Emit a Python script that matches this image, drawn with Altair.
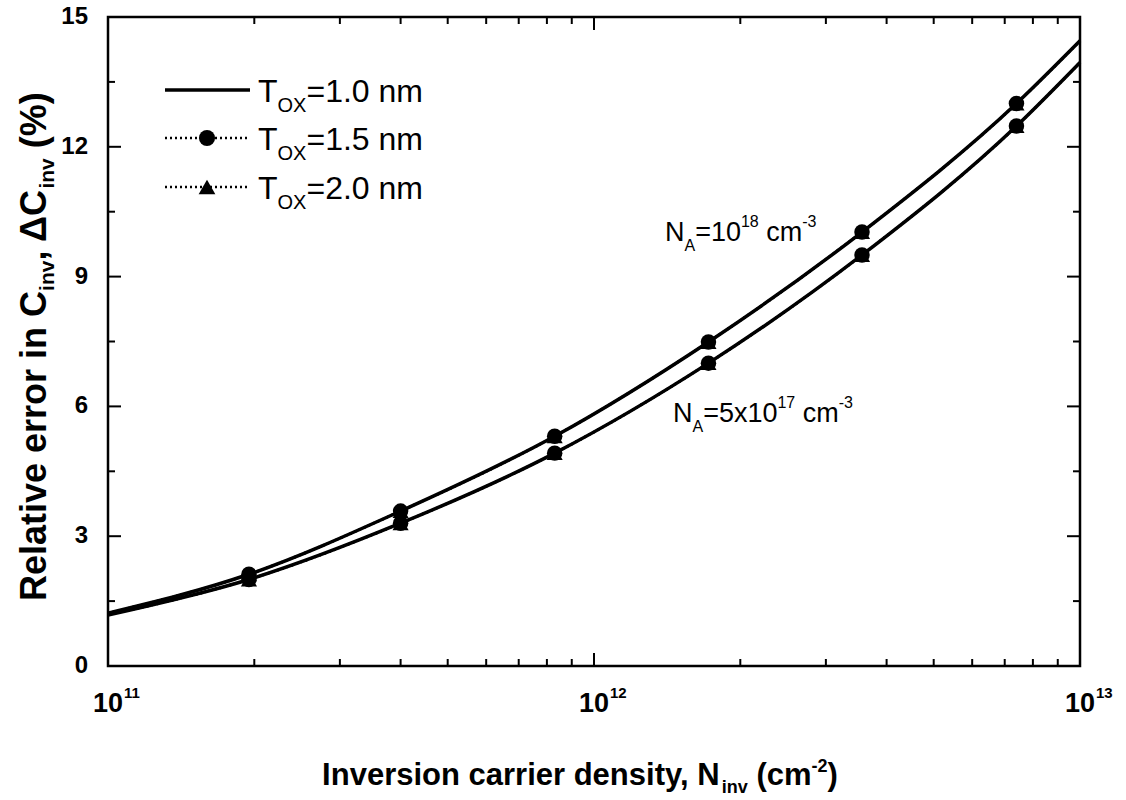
import altair as alt
import pandas as pd

# ---------------- data ----------------
n_inv = [1.0e11, 1.95e11, 4.0e11, 8.3e11, 1.72e12, 3.56e12, 7.4e12, 1.0e13]
err_na_1e18 = [1.22, 2.12, 3.58, 5.31, 7.49, 10.03, 13.00, 14.45]
err_na_5e17 = [1.18, 2.00, 3.30, 4.92, 7.00, 9.50, 12.48, 13.95]
has_marker = [False, True, True, True, True, True, True, False]
tox_values = ["1.0", "1.5", "2.0"]
na_values = ["1e18", "5e17"]

x_major = [1e11, 1e12, 1e13]
x_exponents = ["11", "12", "13"]
x_minor = [2e11, 3e11, 4e11, 5e11, 6e11, 7e11, 8e11, 9e11,
           2e12, 3e12, 4e12, 5e12, 6e12, 7e12, 8e12, 9e12]
y_major = [0, 3, 6, 9, 12, 15]
y_labels = ["0", "3", "6", "9", "12", "15"]
y_minor = [1.5, 4.5, 7.5, 10.5, 13.5]

rows = []
for tox in tox_values:
    for na, errs in zip(na_values, [err_na_1e18, err_na_5e17]):
        for n, e, m in zip(n_inv, errs, has_marker):
            rows.append({"tox": tox, "na": na, "series": tox + "_" + na,
                         "n": n, "err": e, "marker": m})
df = pd.DataFrame(rows)

# ---------------- layout ----------------
W, H = 972, 649
FONT = "Liberation Sans"

REG = {' ': 278, '(': 333, ')': 333, ',': 278, '-': 333, '.': 278, '=': 584,
       'A': 667, 'C': 722, 'N': 722, 'O': 778, 'T': 611, 'X': 667,
       'a': 556, 'c': 500, 'e': 556, 'i': 222, 'm': 833, 'n': 556,
       'v': 500, 'x': 500}
BOLD = {' ': 278, '(': 333, ')': 333, ',': 278, '-': 333, '%': 889,
        'C': 722, 'I': 278, 'N': 722, 'R': 722, 'Δ': 722, 'a': 556,
        'c': 556, 'd': 611, 'e': 556, 'i': 278, 'l': 278, 'm': 889,
        'n': 611, 'o': 611, 'r': 389, 's': 556, 't': 333, 'v': 556,
        'y': 556}


def width(s, size, bold):
    tbl = BOLD if bold else REG
    return sum(tbl.get(c, 556) for c in s) * size / 1000.0


dummy = pd.DataFrame({"k": [0]})


def txt(s, x, y, size, bold=False, angle=0):
    return alt.Chart(dummy).mark_text(
        text=s, align="left", baseline="alphabetic", font=FONT,
        fontSize=size, fontWeight="bold" if bold else "normal",
        angle=angle, color="black"
    ).encode(x=alt.value(x), y=alt.value(y))


def rich(parts, x0, y0, bold=False, angle=0):
    out = []
    adv = 0.0
    for s, size, shift in parts:
        stripped = s.lstrip(" ")
        adv += width(s[:len(s) - len(stripped)], size, bold)
        if angle == 270:
            out.append(txt(stripped, x0 + shift, y0 - adv, size, bold, angle))
        else:
            out.append(txt(stripped, x0 + adv, y0 + shift, size, bold, angle))
        adv += width(stripped, size, bold)
    return out


xs = alt.Scale(type="log", domain=[1e11, 1e13])
ys = alt.Scale(domain=[0, 15])


def X(f):
    return alt.X(f, type="quantitative", scale=xs, axis=None)


def Y(f):
    return alt.Y(f, type="quantitative", scale=ys, axis=None)


layers = []

# curves
layers.append(alt.Chart(df).transform_filter(alt.datum.tox == "1.0").mark_line(
    interpolate="monotone", color="black", strokeWidth=3.5
).encode(x=X("n"), y=Y("err"), detail="series:N"))
layers.append(alt.Chart(df).transform_filter(alt.datum.tox != "1.0").mark_line(
    interpolate="monotone", color="black", strokeWidth=2.5, strokeDash=[2, 3]
).encode(x=X("n"), y=Y("err"), detail="series:N"))
layers.append(alt.Chart(df).transform_filter(
    (alt.datum.tox == "1.5") & alt.datum.marker).mark_point(
    shape="circle", filled=True, size=240, color="black", opacity=1
).encode(x=X("n"), y=Y("err")))
layers.append(alt.Chart(df).transform_filter(
    (alt.datum.tox == "2.0") & alt.datum.marker).mark_point(
    shape="triangle-up", filled=True, size=260, color="black", opacity=1
).encode(x=X("n"), y=Y("err")))

# inward ticks
MAJ, MIN = 13, 7
dxmaj = pd.DataFrame({"v": x_major})
dxmin = pd.DataFrame({"v": x_minor})
dymaj = pd.DataFrame({"v": y_major, "t": y_labels})
dymin = pd.DataFrame({"v": y_minor})
for d, L in [(dxmaj, MAJ), (dxmin, MIN)]:
    layers.append(alt.Chart(d).mark_rule(color="black", strokeWidth=2).encode(
        x=X("v"), y=alt.value(H), y2=alt.value(H - L)))
    layers.append(alt.Chart(d).mark_rule(color="black", strokeWidth=2).encode(
        x=X("v"), y=alt.value(0), y2=alt.value(L)))
for d, L in [(dymaj, MAJ), (dymin, MIN)]:
    layers.append(alt.Chart(d).mark_rule(color="black", strokeWidth=2).encode(
        y=Y("v"), x=alt.value(0), x2=alt.value(L)))
    layers.append(alt.Chart(d).mark_rule(color="black", strokeWidth=2).encode(
        y=Y("v"), x=alt.value(W), x2=alt.value(W - L)))

# y tick labels
layers.append(alt.Chart(dymaj).mark_text(
    align="right", baseline="middle", font=FONT, fontSize=24,
    fontWeight="bold", color="black"
).encode(y=Y("v"), x=alt.value(-20), text="t:N"))

# x tick labels 10^n
dxl = pd.DataFrame({"v": x_major, "e": x_exponents})
layers.append(alt.Chart(dxl).mark_text(
    text="10", align="right", baseline="alphabetic", dx=15, font=FONT,
    fontSize=27, fontWeight="bold", color="black"
).encode(x=X("v"), y=alt.value(H + 46)))
layers.append(alt.Chart(dxl).mark_text(
    align="left", baseline="alphabetic", dx=16, font=FONT,
    fontSize=15, fontWeight="bold", color="black"
).encode(x=X("v"), y=alt.value(H + 32), text="e:N"))

# legend
rows_y = [73, 121, 170]
layers.append(alt.Chart(dummy).mark_rule(color="black", strokeWidth=3.5).encode(
    x=alt.value(57), x2=alt.value(142), y=alt.value(rows_y[0])))
for cy, shape, sz in [(rows_y[1], "circle", 260), (rows_y[2], "triangle-up", 280)]:
    layers.append(alt.Chart(dummy).mark_rule(
        color="black", strokeWidth=2.5, strokeDash=[2, 3]).encode(
        x=alt.value(57), x2=alt.value(142), y=alt.value(cy)))
    layers.append(alt.Chart(dummy).mark_point(
        shape=shape, filled=True, size=sz, color="black", opacity=1).encode(
        x=alt.value(99), y=alt.value(cy)))
for cy, tox in zip(rows_y, tox_values):
    layers += rich([("T", 32, 0), ("OX", 20, 10), ("=" + tox + " nm", 32, 0)],
                   150, cy + 12)

# annotations
layers += rich([("N", 27, 0), ("A", 16, 10), ("=10", 27, 0), ("18", 16, -14),
                (" cm", 27, 0), ("-3", 16, -14)], 557, 224)
layers += rich([("N", 27, 0), ("A", 16, 10), ("=5x10", 27, 0), ("17", 16, -14),
                (" cm", 27, 0), ("-3", 16, -14)], 565, 405)

# axis titles
layers += rich([("Relative error in C", 36, 0), ("inv", 21, 8),
                (", ΔC", 36, 0), ("inv", 21, 8), (" (%)", 36, 0)],
               -62, 584, bold=True, angle=270)
xt_parts = [("Inversion carrier density, N", 31, 0), ("inv", 18, 8),
            (" (cm", 31, 0), ("-2", 18, -13), (")", 31, 0)]
xt_w = sum(width(s, z, True) for s, z, _ in xt_parts)
layers += rich(xt_parts, W / 2 - xt_w / 2 - 14, 768, bold=True)

chart = alt.layer(*layers).properties(
    width=W, height=H,
    autosize=alt.AutoSizeParams(type="none"),
    padding={"left": 108, "top": 17, "right": 46, "bottom": 134},
).configure(background="white").configure_view(stroke="black", strokeWidth=2.5)

chart.save("out.html", embed_options={"renderer": "svg", "actions": False})
